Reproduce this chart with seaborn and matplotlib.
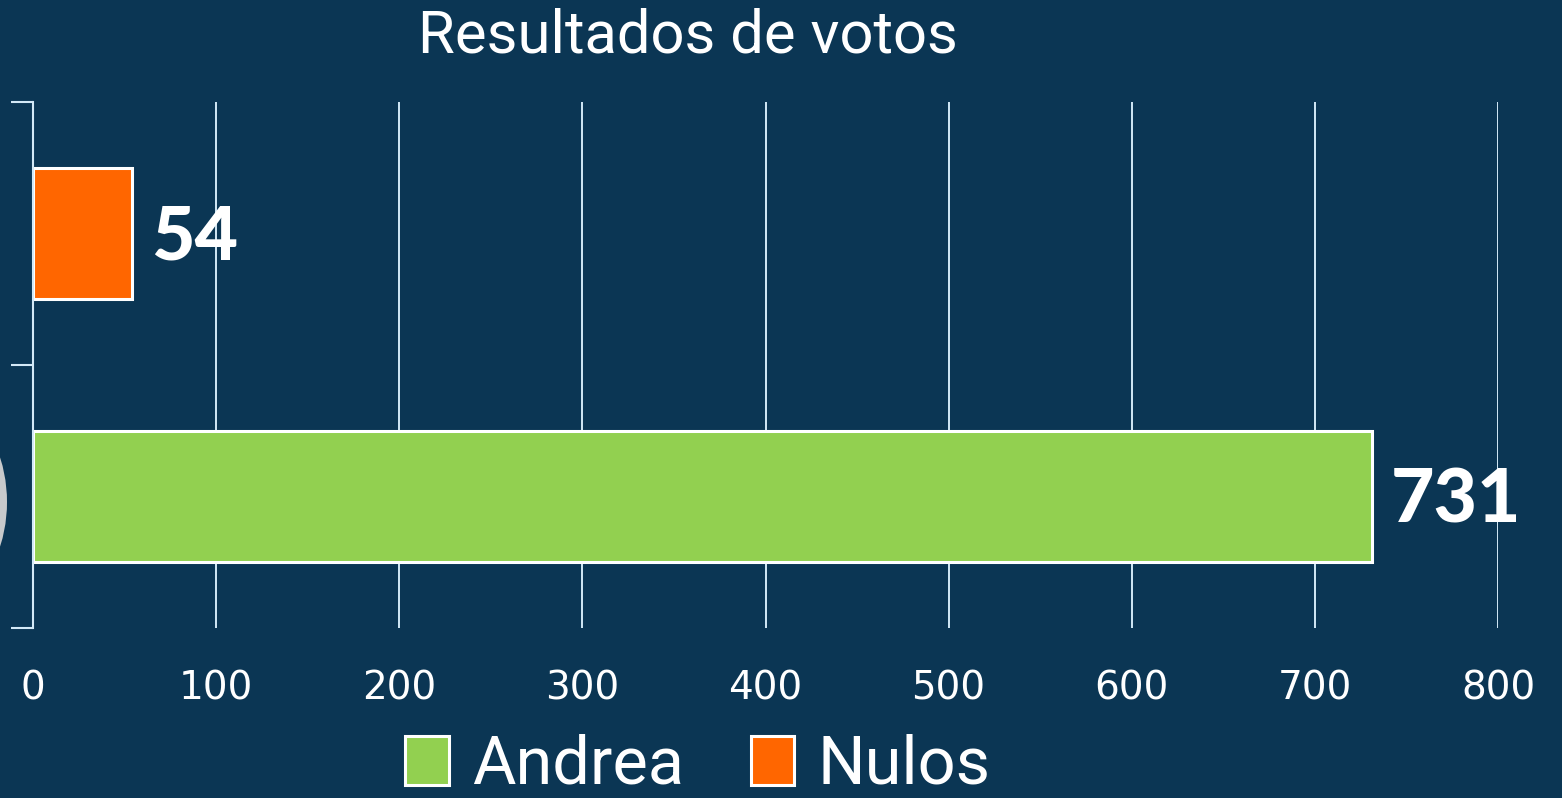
import matplotlib
matplotlib.use("Agg")
import matplotlib.pyplot as plt
from matplotlib.patches import Patch, Circle
import seaborn as sns
import pandas as pd

# Daten
categories = ["Nulos", "Andrea"]
votes = [54, 731]
colors = {"Andrea": "#92d050", "Nulos": "#ff6600"}
x_ticks = [0, 100, 200, 300, 400, 500, 600, 700, 800]
title = "Resultados de votos"

bg = "#0b3654"
grid_col = "#d3e9f7"
narrow = ["Roboto", "DejaVu Sans"]

sns.set_style("dark")

df = pd.DataFrame({"categoria": categories, "votos": votes})

fig = plt.figure(figsize=(15.62, 7.98), dpi=100, facecolor=bg)
ax = fig.add_axes([33 / 1562, 1 - 628 / 798, (1498 - 33) / 1562, (628 - 102) / 798])
ax.set_facecolor(bg)

sns.barplot(data=df, x="votos", y="categoria", hue="categoria", palette=colors,
            order=categories, width=0.5, edgecolor="white", linewidth=2.2,
            saturation=1, legend=False, ax=ax, zorder=3)

ax.set_xlim(0, 800)
ax.set_ylim(1.5, -0.5)
ax.set_xticks(x_ticks)
ax.set_xticklabels([str(t) for t in x_ticks], color="white", fontsize=28,
                   family=["DejaVu Sans"])
ax.tick_params(axis="x", length=0, pad=30)
ax.set_yticks([-0.5, 0.5, 1.5])
ax.set_yticklabels([])
ax.tick_params(axis="y", left=True, length=16, width=1.5, color=grid_col, direction="out")
ax.set_xlabel("")
ax.set_ylabel("")

ax.grid(False)
for t in x_ticks[1:]:
    ax.axvline(t, color=grid_col, linewidth=1.4, zorder=1)

for s in ["top", "right", "bottom"]:
    ax.spines[s].set_visible(False)
ax.spines["left"].set_color(grid_col)
ax.spines["left"].set_linewidth(1.5)
ax.spines["left"].set_zorder(4)

# Wertebeschriftungen
for i, v in enumerate(votes):
    ax.annotate(str(v), xy=(v, i), xytext=(14, -3), textcoords="offset points",
                va="center", ha="left", color="white", fontsize=54,
                fontweight="black", family=["Lato", "DejaVu Sans"])

fig.text(688 / 1562, 1 - 36 / 798, title, ha="center", va="center",
         color="white", fontsize=43, family=narrow)

# Legende
handles = [Patch(facecolor=colors["Andrea"], edgecolor="white", linewidth=2.2, label="Andrea"),
           Patch(facecolor=colors["Nulos"], edgecolor="white", linewidth=2.2, label="Nulos")]
leg = fig.legend(handles=handles, loc="center", bbox_to_anchor=(698 / 1562, 1 - 766 / 798),
                 ncol=2, frameon=False, handlelength=0.65, handleheight=0.75,
                 handletextpad=0.35, columnspacing=1.0, borderpad=0,
                 prop={"family": narrow, "size": 48})
for txt in leg.get_texts():
    txt.set_color("white")

# graue Kreisform am linken Rand
fig.patches.append(Circle((-1.41, (798 - 502) / 100), 1.48, transform=fig.dpi_scale_trans,
                          facecolor="#c8cacc", edgecolor="none", zorder=0))

fig.savefig("out.png", dpi=100, facecolor=bg)
